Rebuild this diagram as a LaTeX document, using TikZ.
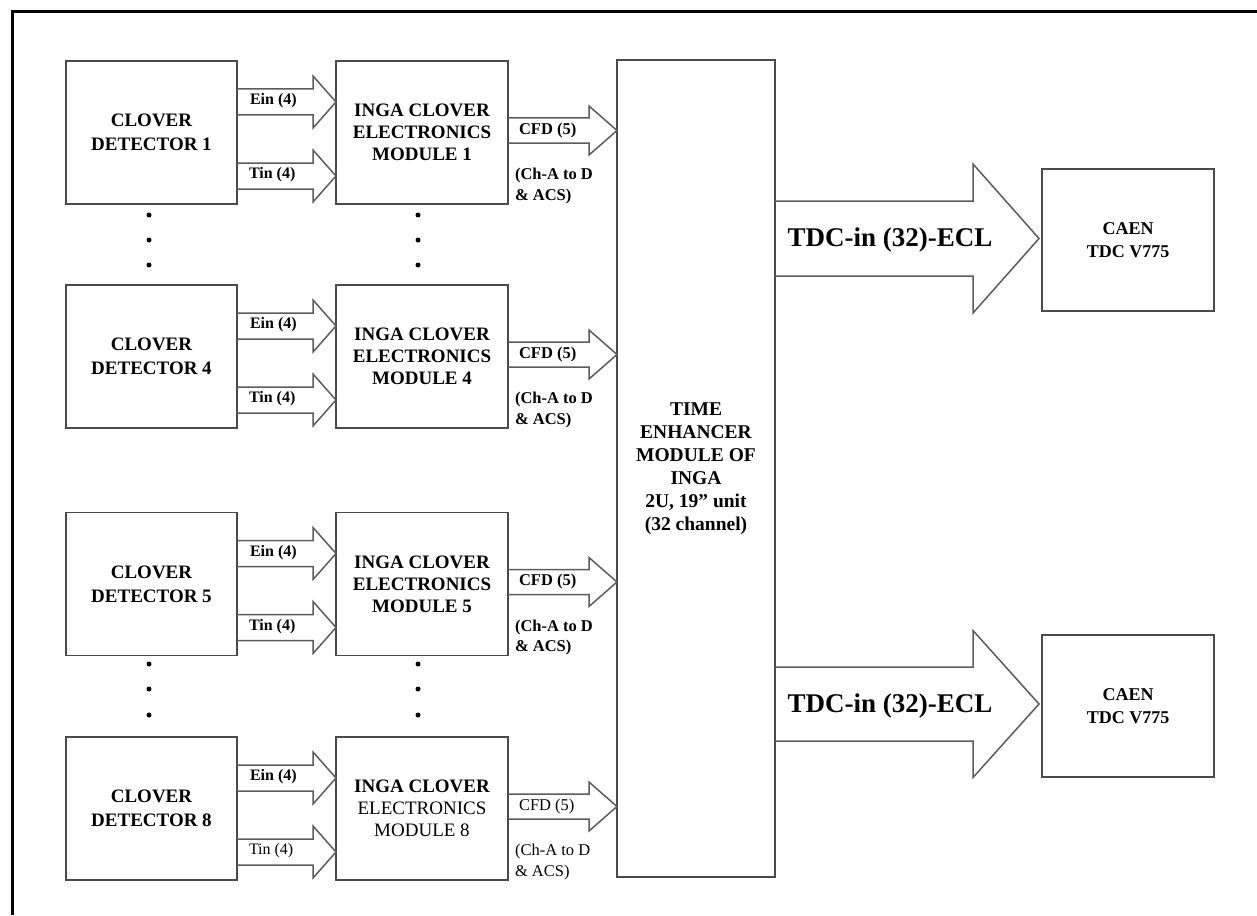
\documentclass[tikz,border=0pt]{standalone}
\usepackage{fontspec}
\setmainfont{Liberation Serif}
\usetikzlibrary{calc}
\definecolor{boxgray}{HTML}{4A4A4A}
\definecolor{arrgray}{HTML}{5C5C5C}
\tikzset{
  blk/.style={draw=boxgray, line width=1.8pt, minimum width=171pt, minimum height=143pt,
    inner sep=0pt, outer sep=0pt, align=center, font=\fontsize{19}{24}\selectfont\bfseries},
  arrline/.style={draw=arrgray, line width=1.5pt, line join=miter},
  lbl/.style={inner sep=0pt, outer sep=0pt, anchor=west, font=\fontsize{16}{20}\selectfont},
  sublbl/.style={inner sep=0pt, outer sep=0pt, anchor=west, align=left, font=\fontsize{16.5}{20.5}\selectfont},
  biglbl/.style={inner sep=0pt, font=\fontsize{27}{32}\selectfont\bfseries},
  dotmark/.style={fill=black},
}
% #1 start, #2 tip (same height), #3 shaft half width, #4 head half width, #5 head length
\newcommand\fatarr[5]{%
  \draw[arrline] let \p1=(#1), \p2=(#2) in
    (\x1,\y1+#3) -- (\x2-#5,\y1+#3) -- (\x2-#5,\y1+#4) -- (\x2,\y1)
    -- (\x2-#5,\y1-#4) -- (\x2-#5,\y1-#3) -- (\x1,\y1-#3);}
% #1 index, #2 centre y, #3 module text, #4 Tin font, #5 CFD font
\newcommand\cloverrow[5]{%
  \node[blk] (det#1) at (151.5,#2) {CLOVER\\DETECTOR #1};
  \node[blk, minimum width=172pt, font=\fontsize{19}{22}\selectfont\bfseries] (mod#1) at (422,#2) {#3};
  \coordinate (ein#1) at ($(det#1.north east)+(0,41)$);
  \coordinate (tin#1) at ($(det#1.south east)+(0,-28)$);
  \coordinate (cfd#1) at ($(mod#1.east)+(0,-2)$);
  \fatarr{ein#1}{ein#1 -| mod#1.west}{13pt}{26pt}{23pt}
  \fatarr{tin#1}{tin#1 -| mod#1.west}{13pt}{26pt}{23pt}
  \fatarr{cfd#1}{cfd#1 -| te.west}{12.5pt}{24.5pt}{28pt}
  \node[lbl, font=\fontsize{16}{20}\selectfont\bfseries] (einl#1) at ($(ein#1)+(13,-1)$) {Ein (4)};
  \node[lbl, font=\fontsize{16}{20}\selectfont#4] (tinl#1) at ($(tin#1)+(12,-1)$) {Tin (4)};
  \node[lbl, font=\fontsize{16.5}{20}\selectfont#5] (cfdl#1) at ($(cfd#1)+(11,0)$) {CFD (5)};
  \node[sublbl, font=\fontsize{16.5}{20.5}\selectfont#5] (chl#1) at ($(mod#1.east)+(7,53.5)$) {(Ch-A to D\\\& ACS)};
}
\begin{document}
\begin{tikzpicture}[x=1pt, y=-1pt]
  \useasboundingbox (0,0) rectangle (1257,915);
  \fill[white] (0,0) rectangle (1257,915);
  % frame
  \draw[line width=3pt, black] (12,915) -- (12,12) -- (1257,12);

  % time enhancer module
  \node[blk, minimum width=158pt, minimum height=817pt, font=\fontsize{19.5}{23}\selectfont\bfseries]
    (te) at (696,468.5) {TIME\\ENHANCER\\MODULE OF\\INGA\\2U, 19” unit\\(32 channel)};

  % CAEN boxes
  \node[blk, minimum width=172pt, minimum height=142pt, font=\fontsize{18}{23}\selectfont\bfseries]
    (caen1) at (1128,240) {CAEN\\TDC V775};
  \node[blk, minimum width=172pt, minimum height=142pt, font=\fontsize{18}{23}\selectfont\bfseries]
    (caen2) at (1128,706) {CAEN\\TDC V775};

  % rows
  \cloverrow{1}{132.5}{INGA CLOVER\\ELECTRONICS\\MODULE 1}{\bfseries}{\bfseries}
  \cloverrow{4}{356.5}{INGA CLOVER\\ELECTRONICS\\MODULE 4}{\bfseries}{\bfseries}
  \cloverrow{5}{584}{INGA CLOVER\\ELECTRONICS\\MODULE 5}{\bfseries}{\bfseries}
  \cloverrow{8}{808.5}{INGA CLOVER\\{\mdseries ELECTRONICS}\\{\mdseries MODULE 8}}{\mdseries}{\mdseries}

  % big arrows to the TDCs
  \coordinate (tip1) at ($(caen1.west)+(-3,-1.5)$);
  \coordinate (tip2) at ($(caen2.west)+(-3,-2)$);
  \fatarr{te.east |- tip1}{tip1}{37.5pt}{74.5pt}{66pt}
  \fatarr{te.east |- tip2}{tip2}{37pt}{73.5pt}{66pt}
  \node[biglbl] (tdcl1) at ($(te.east |- tip1)+(115,1.5)$) {TDC-in (32)-ECL};
  \node[biglbl] (tdcl2) at ($(te.east |- tip2)+(115,2)$) {TDC-in (32)-ECL};

  % continuation dots
  \foreach \yy in {215,240,265,664,689,715}{
    \fill[dotmark] (149,\yy) circle (2.5pt);
    \fill[dotmark] (418,\yy) circle (2.5pt);
  }
\end{tikzpicture}
\end{document}
